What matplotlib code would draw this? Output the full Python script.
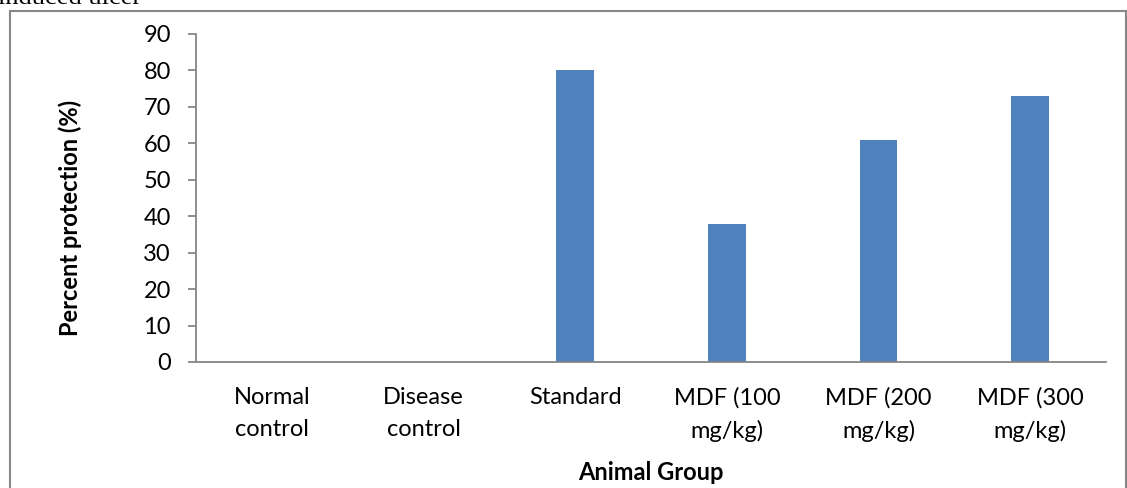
import matplotlib
matplotlib.use("Agg")
import matplotlib.pyplot as plt
from matplotlib.patches import Rectangle

# Data
groups = ["Normal\ncontrol", "Disease\ncontrol", "Standard",
          "MDF (100\nmg/kg)", "MDF (200\nmg/kg)", "MDF (300\nmg/kg)"]
protection = [0, 0, 80, 38, 61, 73]
yticks = [0, 10, 20, 30, 40, 50, 60, 70, 80, 90]

W, H = 1127, 488
DPI = 100
BAR_COLOR = "#4F81BD"
AXIS_COLOR = "#868686"
FONT = "Lato"
FS = 17

fig = plt.figure(figsize=(W / DPI, H / DPI), dpi=DPI)

def fx(px):
    return px / W

def fy(py):
    return 1 - py / H

# Caption line above the chart frame (cut by the top edge)
fig.text(fx(-2), fy(4), "induced ulcer", family="Liberation Serif",
         fontsize=19, va="baseline", ha="left", color="black")

# Outer chart frame
fig.patches.append(Rectangle((fx(10), fy(520)), fx(1126) - fx(10), fy(11) - fy(520),
                             transform=fig.transFigure, fill=False,
                             edgecolor="#878787", linewidth=1.5))

ax = fig.add_axes([fx(196), fy(362), fx(1106) - fx(196), fy(34) - fy(362)])
x = range(len(groups))
ax.bar(x, protection, width=0.25, color=BAR_COLOR, zorder=2)

ax.set_xlim(-0.5, len(groups) - 0.5)
ax.set_ylim(0, 90)
ax.set_yticks(yticks)
ax.set_yticklabels([str(v) for v in yticks], family=FONT, fontsize=FS)
ax.set_xticks(list(x))
ax.set_xticklabels(groups, family=FONT, fontsize=FS, linespacing=1.65)

for side in ("top", "right"):
    ax.spines[side].set_visible(False)
for side in ("left", "bottom"):
    ax.spines[side].set_color(AXIS_COLOR)
    ax.spines[side].set_linewidth(1.3)

ax.tick_params(axis="y", direction="out", length=6, width=1.3,
               color=AXIS_COLOR, pad=12)
ax.tick_params(axis="x", length=0, pad=18)

fig.text(fx(70), fy(218), "Percent protection (%)", family=FONT,
         fontsize=FS, fontweight="bold", rotation=90, ha="center", va="center")
fig.text(fx(651), fy(473), "Animal Group", family=FONT,
         fontsize=FS, fontweight="bold", ha="center", va="center")

fig.savefig("out.png", dpi=DPI)
